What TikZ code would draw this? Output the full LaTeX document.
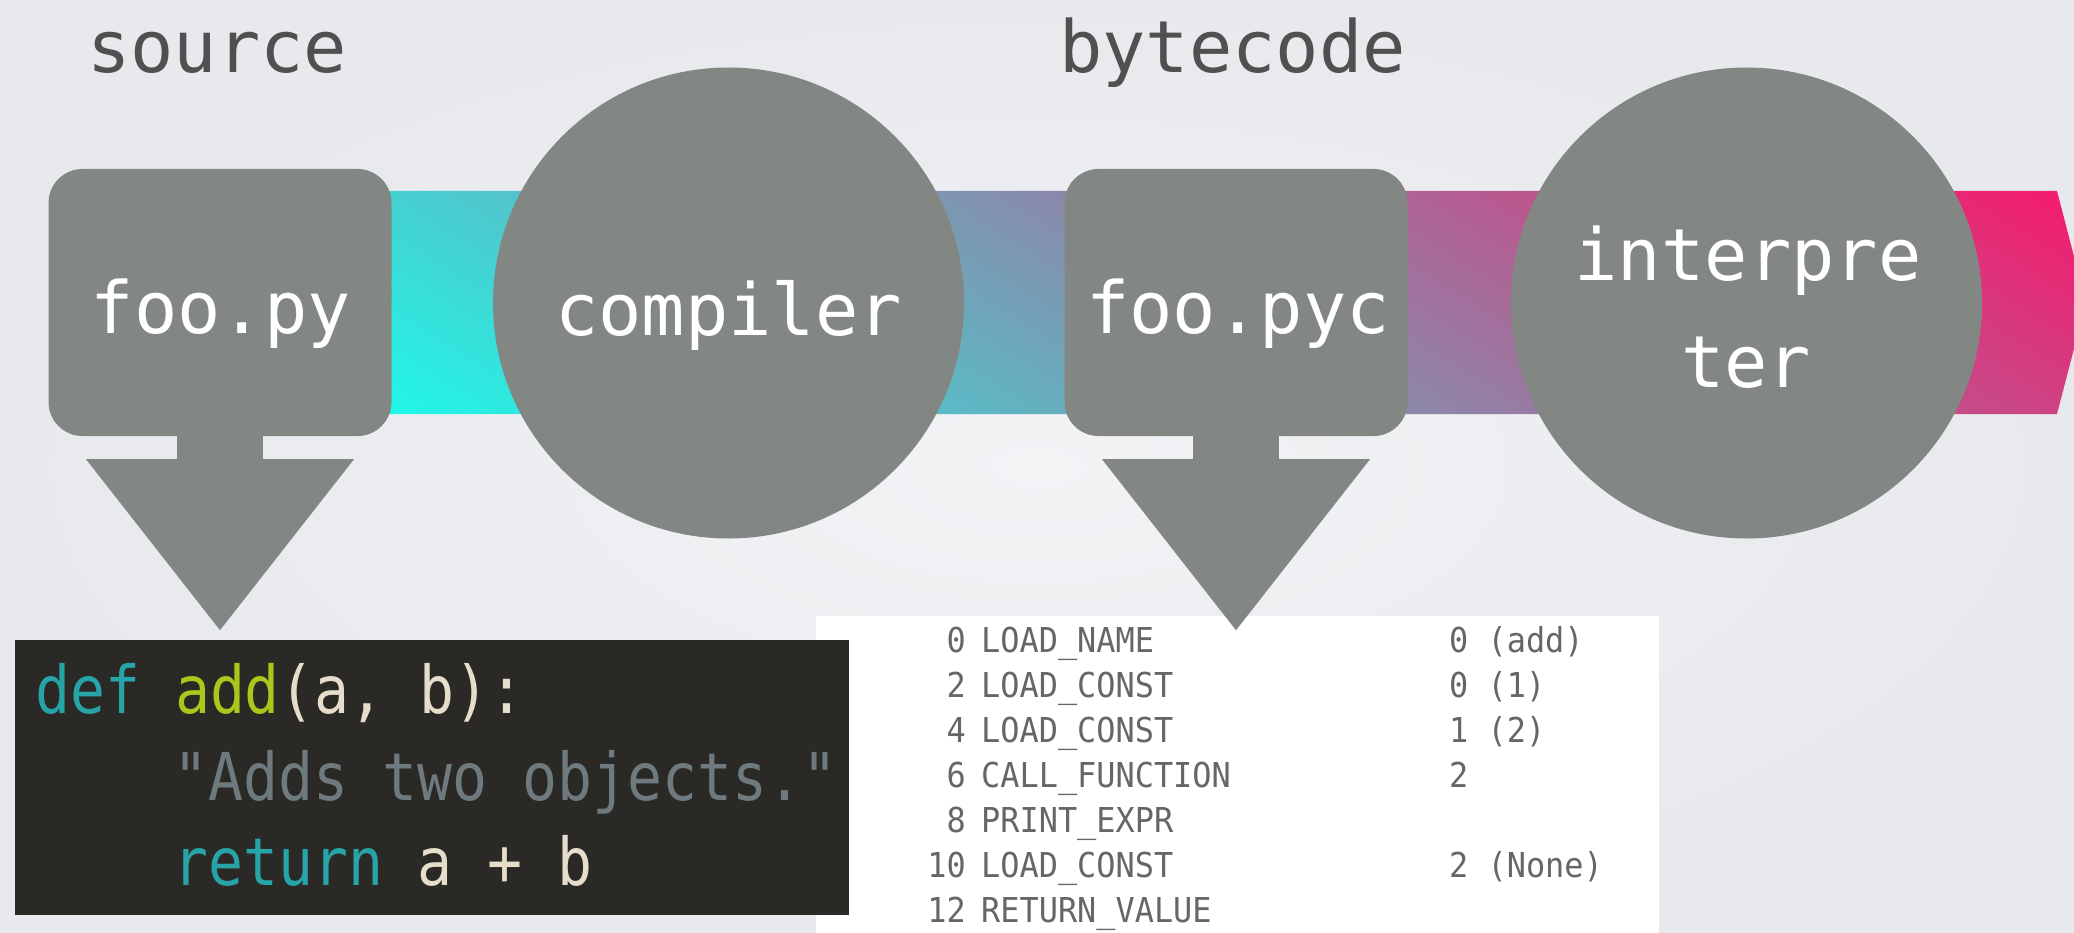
\documentclass[tikz,border=0pt]{standalone}
\usepackage{fontspec}
\newfontfamily\labelfont{DejaVu Sans Mono}
\newfontfamily\codefont[FakeStretch=0.88]{DejaVu Sans Mono}
\newfontfamily\dumpfont[FakeStretch=0.93]{DejaVu Sans Mono}
\usetikzlibrary{calc,shadings}

\definecolor{bgin}{HTML}{F3F3F6}
\definecolor{bgout}{HTML}{E7E9EC}
\definecolor{stage}{HTML}{828784}
\definecolor{titlegrey}{HTML}{505050}
\definecolor{codebg}{HTML}{2A2926}
\definecolor{kw}{HTML}{27A4A7}
\definecolor{fn}{HTML}{A8C81C}
\definecolor{plain}{HTML}{E6DECB}
\definecolor{doc}{HTML}{6F7A7F}
\definecolor{dump}{HTML}{666666}
% pipeline band: cyan at the lower left, pink at the upper right
\definecolor{bandstart}{HTML}{1FF8E8}
\definecolor{bandmid}{HTML}{8F8AB0}
\definecolor{bandend}{HTML}{F6196C}

% stem and triangle hanging below a stage box
\newcommand\pointerbelow[1]{%
  \fill[stage] ($(#1.south)+(-43,-6)$) rectangle ($(#1.south)+(43,25)$);
  \fill[stage] ($(#1.south)+(-134,23)$) -- ($(#1.south)+(134,23)$)
    -- ($(#1.south)+(0,194)$) -- cycle;}

\begin{document}
\begin{tikzpicture}[x=1pt,y=-1pt,
  stagebox/.style={rectangle,rounded corners=34pt,fill=stage,
    minimum width=343pt,minimum height=267pt,inner sep=0pt},
  stagecircle/.style={circle,fill=stage,minimum size=471pt,inner sep=0pt},
  stagelabel/.style={anchor=base,inner sep=0pt,text=white,
    font=\labelfont\fontsize{72}{86}\selectfont},
  titlelabel/.style={anchor=base west,inner sep=0pt,text=titlegrey,
    font=\labelfont\fontsize{72}{86}\selectfont},
  codeline/.style={anchor=base west,inner sep=0pt,text=plain,
    font=\codefont\fontsize{66}{80}\selectfont\frenchspacing},
  dumptext/.style={inner sep=0pt,text=dump,
    font=\dumpfont\fontsize{34.3}{45}\selectfont\frenchspacing},
  panel/.style={rectangle,anchor=north west,inner sep=0pt}
]
\useasboundingbox (0,0) rectangle (2074,933);
\shade[inner color=bgin,outer color=bgout] (0,0) rectangle (2074,933);

% pipeline band with arrow head, shaded along a 58 degree diagonal
\begin{scope}
  \clip (380,191) -- (2057,191) -- (2086,302.5) -- (2057,414) -- (380,414) -- cycle;
  \begin{scope}[transform canvas={shift={(1233,302.5)},rotate=58}]
    \shade[left color=bandstart,middle color=bandmid,right color=bandend]
      (-547,-1000) rectangle (547,1000);
  \end{scope}
\end{scope}

% disassembly panel and source panel
\node[panel,fill=white,minimum width=843pt,minimum height=317pt] (dumpbox) at (816,616) {};
\node[panel,fill=codebg,minimum width=834pt,minimum height=275pt] (codebox) at (15,640) {};

% stages
\node[stagebox] (foopy) at (220,302.5) {};
\node[stagecircle] (compiler) at (728.5,303) {};
\node[stagebox] (foopyc) at (1236,302.5) {};
\node[stagecircle] (interp) at (1746.5,303) {};
\pointerbelow{foopy}
\pointerbelow{foopyc}

% stage labels
\node[stagelabel] (lfoopy) at (221,333) {foo.py};
\node[stagelabel] (lcompiler) at (728.5,335) {compiler};
\node[stagelabel] (lfoopyc) at (1238,333) {foo.pyc};
\node[stagelabel] (linterp1) at (1748,280) {interpre};
\node[stagelabel] (linterp2) at (1746,387) {ter};

% titles
\node[titlelabel] (tsource) at (87,73) {source};
\node[titlelabel] (tbytecode) at (1059,73) {bytecode};

% source code
\node[codeline] (src1) at (35,713) {\textcolor{kw}{def} \textcolor{fn}{add}(a, b):};
\node[codeline] (src2) at (173,800) {\textcolor{doc}{"Adds two objects."}};
\node[codeline] (src3) at (173,885) {\textcolor{kw}{return} a + b};

% bytecode listing
\foreach \n/\op [count=\i from 0] in {0/LOAD\_NAME,2/LOAD\_CONST,4/LOAD\_CONST,
    6/CALL\_FUNCTION,8/PRINT\_EXPR,10/LOAD\_CONST,12/RETURN\_VALUE}{
  \node[dumptext,anchor=base east] (off\i) at (966,652+45*\i) {\n};
  \node[dumptext,anchor=base west] (op\i) at (981,652+45*\i) {\op};
}
\node[dumptext,anchor=base west] (arg0) at (1449,652) {0 (add)};
\node[dumptext,anchor=base west] (arg1) at (1449,697) {0 (1)};
\node[dumptext,anchor=base west] (arg2) at (1449,742) {1 (2)};
\node[dumptext,anchor=base west] (arg3) at (1449,787) {2};
\node[dumptext,anchor=base west] (arg5) at (1449,877) {2 (None)};
\end{tikzpicture}
\end{document}
